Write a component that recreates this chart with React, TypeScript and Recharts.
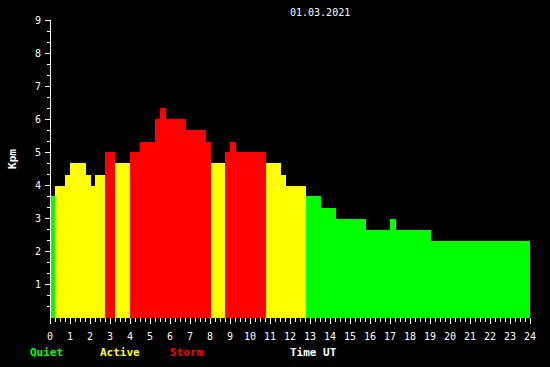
import { ComposedChart, Area, XAxis, YAxis } from "recharts";

// segment start times (hours UT) and the Kpm value held until the next start
const starts = [
  0, 0.25, 0.75, 1, 1.8, 2.05, 2.25, 2.75, 3.25, 4, 4.5, 5.25, 5.5, 5.8, 6.8,
  7.8, 8.05, 8.75, 9, 9.3, 10.8, 11.55, 11.8, 12.78, 13.55, 14.3, 15.8, 17,
  17.3, 19.05,
];
const kpm = [
  3.67, 4, 4.33, 4.67, 4.33, 4, 4.33, 5, 4.67, 5, 5.33, 6, 6.33, 6, 5.67, 5.33,
  4.67, 5, 5.33, 5, 4.67, 4.33, 4, 3.67, 3.33, 3, 2.67, 3, 2.67, 2.33,
];
const dayEnd = 24;
const hourLabels = Array.from({ length: 25 }, (_, i) => i);
const kpmLabels = [1, 2, 3, 4, 5, 6, 7, 8, 9];
const title = "01.03.2021";

const COLORS = { quiet: "#00ff00", active: "#ffff00", storm: "#ff0000" };
const FONT = "'DejaVu Sans Mono', monospace";

const levelOf = (v: number) => (v < 4 ? "quiet" : v < 5 ? "active" : "storm");

// each segment becomes two points (start, end) on its own level series
const data = starts.flatMap((s, i) => {
  const end = i + 1 < starts.length ? starts[i + 1] : dayEnd;
  const key = levelOf(kpm[i]);
  return [
    { t: s, [key]: kpm[i] },
    { t: end, [key]: kpm[i] },
  ];
});

const xTicks = Array.from({ length: dayEnd * 4 + 1 }, (_, i) => i / 4);
const yTicks = Array.from({ length: 28 }, (_, i) => i / 3);

function XTick({ x, y, payload }: any) {
  const v = payload.value;
  const major = hourLabels.includes(v);
  return (
    <g>
      <line x1={x} x2={x} y1={y} y2={y + (major ? 6 : 4)} stroke="#fff" />
      {major && (
        <text
          x={x}
          y={y + 18}
          textAnchor="middle"
          dominantBaseline="central"
          fill="#fff"
          fontSize={10}
          fontFamily={FONT}
        >
          {v}
        </text>
      )}
    </g>
  );
}

function YTick({ x, y, payload }: any) {
  const v = Math.round(payload.value * 3) / 3;
  const major = Math.abs(v - Math.round(v)) < 0.01;
  const label = kpmLabels.find((k) => Math.abs(k - v) < 0.01);
  if (v === 0) return null;
  return (
    <g>
      <line x1={x - (major ? 5 : 3)} x2={x} y1={y} y2={y} stroke="#fff" />
      {label !== undefined && (
        <text
          x={x - 9}
          y={y}
          textAnchor="end"
          dominantBaseline="central"
          fill="#fff"
          fontSize={10}
          fontFamily={FONT}
        >
          {label}
        </text>
      )}
    </g>
  );
}

const textBase: React.CSSProperties = {
  position: "absolute",
  fontFamily: FONT,
  fontSize: 11,
  lineHeight: "11px",
  fontWeight: "bold",
  whiteSpace: "nowrap",
};

export default function App() {
  return (
    <div
      style={{
        position: "absolute",
        left: 0,
        top: 0,
        width: 550,
        height: 367,
        background: "#000",
        overflow: "hidden",
      }}
    >
      <ComposedChart
        width={550}
        height={367}
        data={data}
        margin={{ top: 20, right: 20, bottom: 0, left: 0 }}
        style={{ shapeRendering: "crispEdges" }}
      >
        <XAxis
          dataKey="t"
          type="number"
          domain={[0, dayEnd]}
          ticks={xTicks}
          interval={0}
          height={49}
          axisLine={false}
          tickLine={false}
          tickSize={0}
          tickMargin={0}
          tick={<XTick />}
        />
        <YAxis
          type="number"
          domain={[0, 9]}
          ticks={yTicks}
          interval={0}
          width={50}
          axisLine={{ stroke: "#fff" }}
          tickLine={false}
          tickSize={0}
          tickMargin={0}
          tick={<YTick />}
        />
        {(["quiet", "active", "storm"] as const).map((k) => (
          <Area
            key={k}
            dataKey={k}
            type="linear"
            stroke="none"
            fill={COLORS[k]}
            fillOpacity={1}
            isAnimationActive={false}
            dot={false}
            activeDot={false}
          />
        ))}
      </ComposedChart>
      <div
        style={{
          ...textBase,
          fontWeight: "normal",
          fontSize: 10,
          color: "#fff",
          left: 290,
          top: 7,
        }}
      >
        {title}
      </div>
      <div
        style={{
          ...textBase,
          color: "#fff",
          left: 12,
          top: 159,
          transform: "translate(-50%, -50%) rotate(-90deg)",
        }}
      >
        Kpm
      </div>
      <div style={{ ...textBase, color: COLORS.quiet, left: 30, top: 347 }}>
        Quiet
      </div>
      <div style={{ ...textBase, color: COLORS.active, left: 100, top: 347 }}>
        Active
      </div>
      <div style={{ ...textBase, color: COLORS.storm, left: 170, top: 347 }}>
        Storm
      </div>
      <div style={{ ...textBase, color: "#fff", left: 290, top: 347 }}>
        Time UT
      </div>
    </div>
  );
}
